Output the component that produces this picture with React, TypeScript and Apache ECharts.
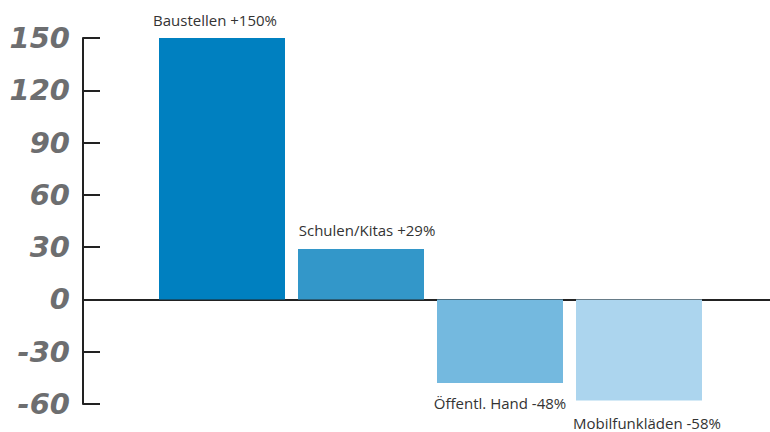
import React, { useEffect, useRef } from "react";
import * as echarts from "echarts";

const categories = ["Baustellen", "Schulen/Kitas", "Öffentl. Hand", "Mobilfunkläden"];
const values = [150, 29, -48, -58];
const labels = ["Baustellen +150%", "Schulen/Kitas +29%", "Öffentl. Hand -48%", "Mobilfunkläden -58%"];
const colors = ["#0080c0", "#3397c9", "#74b9df", "#acd5ee"];
const positions = [1, 2, 3, 4];
const labelShift = [-7, 6, 0, 8];

export default function App() {
  const ref = useRef<HTMLDivElement>(null);
  useEffect(() => {
    if (!ref.current) return;
    const chart = echarts.init(ref.current, undefined, { renderer: "svg" });
    chart.setOption({
      animation: false,
      backgroundColor: "#ffffff",
      grid: { left: 83, right: 0, top: 38, bottom: 28, containLabel: false },
      xAxis: {
        type: "value",
        min: 0,
        max: 687 / 139,
        axisLine: { show: true, onZero: true, lineStyle: { color: "#222", width: 2 } },
        axisTick: { show: false },
        axisLabel: { show: false },
        splitLine: { show: false },
      },
      yAxis: {
        type: "value",
        min: -60,
        max: 150,
        interval: 30,
        axisLine: { show: true, lineStyle: { color: "#222", width: 2 } },
        axisTick: { show: true, inside: true, length: 17, lineStyle: { color: "#222", width: 2 } },
        axisLabel: {
          margin: 13,
          color: "#6d6e70",
          fontFamily: "DejaVu Sans",
          fontWeight: "bold",
          fontStyle: "italic",
          fontSize: 29,
        },
        splitLine: { show: false },
      },
      series: [
        {
          type: "bar",
          barWidth: 126,
          data: values.map((v, i) => ({
            value: [positions[i], v],
            name: categories[i],
            itemStyle: { color: colors[i] },
            label: {
              show: true,
              position: v >= 0 ? "top" : "bottom",
              distance: v >= 0 ? 11 : 12,
              offset: [labelShift[i], i === 3 ? 3 : 0],
              formatter: labels[i],
              color: "#333",
              fontFamily: "Open Sans",
              fontSize: 15,
            },
          })),
        },
      ],
    });
    return () => chart.dispose();
  }, []);
  return <div ref={ref} style={{ width: 770, height: 432, position: "absolute", left: 0, top: 0 }} />;
}
